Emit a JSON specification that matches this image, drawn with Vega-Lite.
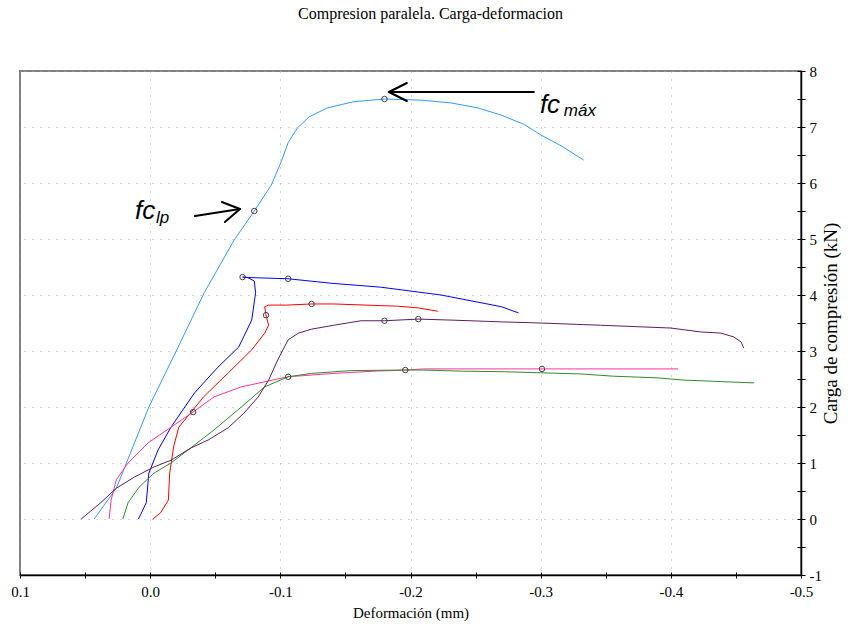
{
  "$schema": "https://vega.github.io/schema/vega-lite/v6.json",
  "width": 781,
  "height": 504,
  "autosize": {"type": "none"},
  "padding": {"left": 20, "top": 71, "right": 47, "bottom": 54},
  "background": "white",
  "title": {"text": "Compresion paralela. Carga-deformacion", "font": "Liberation Serif", "fontSize": 16, "fontWeight": "normal", "color": "#000000", "anchor": "middle", "frame": "group", "baseline": "alphabetic", "offset": 29, "dx": 20},
  "config": {"view": {"stroke": "#808080", "strokeWidth": 2}, "font": "Liberation Serif"},
  "datasets": {
    "curves": [
      {"s": "A", "i": 0, "x": 0.043, "y": 0}, {"s": "A", "i": 1, "x": 0.026, "y": 0.55}, {"s": "A", "i": 2, "x": 0.001, "y": 2.0}, {"s": "A", "i": 3, "x": -0.0215, "y": 3.07}, {"s": "A", "i": 4, "x": -0.0415, "y": 4.04}, {"s": "A", "i": 5, "x": -0.0645, "y": 4.98}, {"s": "A", "i": 6, "x": -0.08, "y": 5.5}, {"s": "A", "i": 7, "x": -0.093, "y": 5.96}, {"s": "A", "i": 8, "x": -0.101, "y": 6.4}, {"s": "A", "i": 9, "x": -0.106, "y": 6.72}, {"s": "A", "i": 10, "x": -0.113, "y": 6.98}, {"s": "A", "i": 11, "x": -0.122, "y": 7.18}, {"s": "A", "i": 12, "x": -0.136, "y": 7.34}, {"s": "A", "i": 13, "x": -0.156, "y": 7.45}, {"s": "A", "i": 14, "x": -0.18, "y": 7.5}, {"s": "A", "i": 15, "x": -0.208, "y": 7.48}, {"s": "A", "i": 16, "x": -0.231, "y": 7.43}, {"s": "A", "i": 17, "x": -0.252, "y": 7.34}, {"s": "A", "i": 18, "x": -0.27, "y": 7.21}, {"s": "A", "i": 19, "x": -0.287, "y": 7.05}, {"s": "A", "i": 20, "x": -0.3, "y": 6.86}, {"s": "A", "i": 21, "x": -0.316, "y": 6.66}, {"s": "A", "i": 22, "x": -0.333, "y": 6.41},
      {"s": "B", "i": 0, "x": 0.009, "y": 0}, {"s": "B", "i": 1, "x": 0.003, "y": 0.29}, {"s": "B", "i": 2, "x": 0.001, "y": 0.82}, {"s": "B", "i": 3, "x": -0.006, "y": 1.23}, {"s": "B", "i": 4, "x": -0.016, "y": 1.64}, {"s": "B", "i": 5, "x": -0.034, "y": 2.25}, {"s": "B", "i": 6, "x": -0.052, "y": 2.71}, {"s": "B", "i": 7, "x": -0.068, "y": 3.07}, {"s": "B", "i": 8, "x": -0.078, "y": 3.55}, {"s": "B", "i": 9, "x": -0.081, "y": 4.04}, {"s": "B", "i": 10, "x": -0.08, "y": 4.25}, {"s": "B", "i": 11, "x": -0.075, "y": 4.31}, {"s": "B", "i": 12, "x": -0.071, "y": 4.32}, {"s": "B", "i": 13, "x": -0.078, "y": 4.31}, {"s": "B", "i": 14, "x": -0.106, "y": 4.29}, {"s": "B", "i": 15, "x": -0.139, "y": 4.21}, {"s": "B", "i": 16, "x": -0.177, "y": 4.14}, {"s": "B", "i": 17, "x": -0.2235, "y": 4.0}, {"s": "B", "i": 18, "x": -0.27, "y": 3.79}, {"s": "B", "i": 19, "x": -0.283, "y": 3.68},
      {"s": "C", "i": 0, "x": -0.002, "y": 0}, {"s": "C", "i": 1, "x": -0.008, "y": 0.11}, {"s": "C", "i": 2, "x": -0.014, "y": 0.34}, {"s": "C", "i": 3, "x": -0.015, "y": 0.82}, {"s": "C", "i": 4, "x": -0.018, "y": 1.29}, {"s": "C", "i": 5, "x": -0.022, "y": 1.64}, {"s": "C", "i": 6, "x": -0.033, "y": 1.95}, {"s": "C", "i": 7, "x": -0.041, "y": 2.18}, {"s": "C", "i": 8, "x": -0.06, "y": 2.61}, {"s": "C", "i": 9, "x": -0.078, "y": 3.02}, {"s": "C", "i": 10, "x": -0.088, "y": 3.32}, {"s": "C", "i": 11, "x": -0.091, "y": 3.46}, {"s": "C", "i": 12, "x": -0.089, "y": 3.64}, {"s": "C", "i": 13, "x": -0.088, "y": 3.79}, {"s": "C", "i": 14, "x": -0.091, "y": 3.82}, {"s": "C", "i": 15, "x": -0.105, "y": 3.82}, {"s": "C", "i": 16, "x": -0.124, "y": 3.84}, {"s": "C", "i": 17, "x": -0.141, "y": 3.84}, {"s": "C", "i": 18, "x": -0.19, "y": 3.8}, {"s": "C", "i": 19, "x": -0.206, "y": 3.77}, {"s": "C", "i": 20, "x": -0.221, "y": 3.71},
      {"s": "D", "i": 0, "x": 0.0315, "y": 0}, {"s": "D", "i": 1, "x": 0.03, "y": 0.34}, {"s": "D", "i": 2, "x": 0.026, "y": 0.7}, {"s": "D", "i": 3, "x": 0.017, "y": 1.0}, {"s": "D", "i": 4, "x": 0.0015, "y": 1.36}, {"s": "D", "i": 5, "x": -0.016, "y": 1.64}, {"s": "D", "i": 6, "x": -0.033, "y": 1.91}, {"s": "D", "i": 7, "x": -0.049, "y": 2.18}, {"s": "D", "i": 8, "x": -0.07, "y": 2.36}, {"s": "D", "i": 9, "x": -0.088, "y": 2.45}, {"s": "D", "i": 10, "x": -0.106, "y": 2.54}, {"s": "D", "i": 11, "x": -0.141, "y": 2.6}, {"s": "D", "i": 12, "x": -0.172, "y": 2.64}, {"s": "D", "i": 13, "x": -0.196, "y": 2.66}, {"s": "D", "i": 14, "x": -0.21, "y": 2.68}, {"s": "D", "i": 15, "x": -0.301, "y": 2.68}, {"s": "D", "i": 16, "x": -0.4055, "y": 2.68},
      {"s": "E", "i": 0, "x": 0.021, "y": 0}, {"s": "E", "i": 1, "x": 0.017, "y": 0.29}, {"s": "E", "i": 2, "x": 0.0085, "y": 0.57}, {"s": "E", "i": 3, "x": -0.003, "y": 0.82}, {"s": "E", "i": 4, "x": -0.016, "y": 1.0}, {"s": "E", "i": 5, "x": -0.034, "y": 1.32}, {"s": "E", "i": 6, "x": -0.049, "y": 1.59}, {"s": "E", "i": 7, "x": -0.07, "y": 2.0}, {"s": "E", "i": 8, "x": -0.088, "y": 2.36}, {"s": "E", "i": 9, "x": -0.106, "y": 2.54}, {"s": "E", "i": 10, "x": -0.124, "y": 2.6}, {"s": "E", "i": 11, "x": -0.154, "y": 2.65}, {"s": "E", "i": 12, "x": -0.196, "y": 2.66}, {"s": "E", "i": 13, "x": -0.21, "y": 2.66}, {"s": "E", "i": 14, "x": -0.24, "y": 2.64}, {"s": "E", "i": 15, "x": -0.272, "y": 2.63}, {"s": "E", "i": 16, "x": -0.331, "y": 2.59}, {"s": "E", "i": 17, "x": -0.356, "y": 2.55}, {"s": "E", "i": 18, "x": -0.39, "y": 2.52}, {"s": "E", "i": 19, "x": -0.41, "y": 2.48}, {"s": "E", "i": 20, "x": -0.464, "y": 2.43},
      {"s": "F", "i": 0, "x": 0.053, "y": 0}, {"s": "F", "i": 1, "x": 0.038, "y": 0.29}, {"s": "F", "i": 2, "x": 0.026, "y": 0.55}, {"s": "F", "i": 3, "x": 0.012, "y": 0.75}, {"s": "F", "i": 4, "x": -0.003, "y": 0.93}, {"s": "F", "i": 5, "x": -0.016, "y": 1.05}, {"s": "F", "i": 6, "x": -0.0315, "y": 1.27}, {"s": "F", "i": 7, "x": -0.0445, "y": 1.41}, {"s": "F", "i": 8, "x": -0.06, "y": 1.63}, {"s": "F", "i": 9, "x": -0.072, "y": 1.89}, {"s": "F", "i": 10, "x": -0.083, "y": 2.18}, {"s": "F", "i": 11, "x": -0.091, "y": 2.48}, {"s": "F", "i": 12, "x": -0.098, "y": 2.84}, {"s": "F", "i": 13, "x": -0.106, "y": 3.2}, {"s": "F", "i": 14, "x": -0.114, "y": 3.32}, {"s": "F", "i": 15, "x": -0.124, "y": 3.39}, {"s": "F", "i": 16, "x": -0.141, "y": 3.46}, {"s": "F", "i": 17, "x": -0.162, "y": 3.54}, {"s": "F", "i": 18, "x": -0.18, "y": 3.54}, {"s": "F", "i": 19, "x": -0.206, "y": 3.57}, {"s": "F", "i": 20, "x": -0.2335, "y": 3.55}, {"s": "F", "i": 21, "x": -0.27, "y": 3.52}, {"s": "F", "i": 22, "x": -0.3, "y": 3.5}, {"s": "F", "i": 23, "x": -0.346, "y": 3.46}, {"s": "F", "i": 24, "x": -0.4, "y": 3.41}, {"s": "F", "i": 25, "x": -0.423, "y": 3.34}, {"s": "F", "i": 26, "x": -0.4385, "y": 3.32}, {"s": "F", "i": 27, "x": -0.4485, "y": 3.25}, {"s": "F", "i": 28, "x": -0.454, "y": 3.16}, {"s": "F", "i": 29, "x": -0.456, "y": 3.05}
    ],
    "pts": [
      {"s": "A", "x": -0.08, "y": 5.5}, {"s": "A", "x": -0.18, "y": 7.5},
      {"s": "B", "x": -0.071, "y": 4.32}, {"s": "B", "x": -0.106, "y": 4.29},
      {"s": "C", "x": -0.089, "y": 3.64}, {"s": "C", "x": -0.124, "y": 3.84},
      {"s": "D", "x": -0.033, "y": 1.91}, {"s": "D", "x": -0.301, "y": 2.68},
      {"s": "E", "x": -0.106, "y": 2.54}, {"s": "E", "x": -0.196, "y": 2.66},
      {"s": "F", "x": -0.18, "y": 3.54}, {"s": "F", "x": -0.206, "y": 3.57}
    ],
    "arrows": [
      {"x": -0.1834, "y": 7.625, "x2": -0.2948, "y2": 7.625},
      {"x": -0.1834, "y": 7.625, "x2": -0.1972, "y2": 7.786},
      {"x": -0.1834, "y": 7.625, "x2": -0.1972, "y2": 7.464},
      {"x": -0.0344, "y": 5.411, "x2": -0.069, "y2": 5.536},
      {"x": -0.069, "y": 5.536, "x2": -0.0551, "y2": 5.661},
      {"x": -0.069, "y": 5.536, "x2": -0.0574, "y2": 5.304}
    ],
    "mainLabels": [
      {"t": "fc", "x": -0.2994, "y": 7.25},
      {"t": "fc", "x": 0.0117, "y": 5.357}
    ],
    "subLabels": [
      {"t": "máx", "x": -0.3178, "y": 7.196},
      {"t": "lp", "x": -0.0044, "y": 5.286}
    ]
  },
  "layer": [
    {
      "data": {"name": "curves"},
      "mark": {"type": "line", "strokeWidth": 1},
      "encoding": {
        "x": {"field": "x", "type": "quantitative", "scale": {"domain": [0.1, -0.5], "nice": false, "zero": false},
          "axis": {"orient": "bottom", "values": [0.1, 0.05, 0, -0.05, -0.1, -0.15, -0.2, -0.25, -0.3, -0.35, -0.4, -0.45, -0.5],
            "title": "Deformación (mm)", "titleFont": "Liberation Serif", "titleFontSize": 15, "titleFontWeight": "normal", "titleColor": "#000000", "titlePadding": 6,
            "labelFont": "Liberation Serif", "labelFontSize": 15, "labelColor": "#000000", "labelPadding": 6, "labelFlush": false, "labelOverlap": false, "labelBound": false,
            "labelExpr": "abs(datum.value*10-round(datum.value*10))<0.01 ? (datum.value < -0.001 ? '-' : '') + format(abs(datum.value),'.1f') : ''",
            "tickSize": 3, "tickColor": "#000000", "tickWidth": 1, "domainColor": "#000000", "domainWidth": 1.5,
            "grid": true, "gridColor": "#a8a8a8", "gridDash": [1, 7], "gridWidth": 1,
            "gridOpacity": {"condition": {"test": "abs(datum.value*10-round(datum.value*10))<0.01", "value": 1}, "value": 0}}},
        "y": {"field": "y", "type": "quantitative", "scale": {"domain": [-1, 8], "nice": false, "zero": false},
          "axis": {"orient": "right", "values": [-1, -0.5, 0, 0.5, 1, 1.5, 2, 2.5, 3, 3.5, 4, 4.5, 5, 5.5, 6, 6.5, 7, 7.5, 8],
            "title": "Carga de compresión (kN)", "titleFont": "Liberation Serif", "titleFontSize": 19, "titleFontWeight": "normal", "titleColor": "#000000", "titleAngle": -90, "titleBaseline": "top", "titleAlign": "center", "titlePadding": 0,
            "labelFont": "Liberation Serif", "labelFontSize": 15, "labelColor": "#000000", "labelPadding": 4, "labelFlush": false, "labelOverlap": false, "labelBound": false,
            "labelExpr": "datum.value == round(datum.value) ? (datum.value < 0 ? '-' : '') + format(abs(datum.value),'d') : ''",
            "tickSize": 4, "tickColor": "#000000", "tickWidth": 1, "domainColor": "#000000", "domainWidth": 1.5,
            "grid": true, "gridColor": "#a8a8a8", "gridDash": [1, 7], "gridWidth": 1,
            "gridOpacity": {"condition": {"test": "datum.value == round(datum.value)", "value": 1}, "value": 0}}},
        "color": {"field": "s", "type": "nominal", "legend": null,
          "scale": {"domain": ["A", "B", "C", "D", "E", "F"], "range": ["#3399ff", "#0000ff", "#ff0000", "#ff3399", "#2e8b2e", "#5c1f5c"]}},
        "order": {"field": "i", "type": "quantitative"}
      }
    },
    {
      "data": {"name": "pts"},
      "mark": {"type": "point", "filled": false, "size": 30, "strokeWidth": 1, "color": "#404040", "opacity": 1},
      "encoding": {
        "x": {"field": "x", "type": "quantitative", "scale": {"domain": [0.1, -0.5], "nice": false, "zero": false},
          "axis": {"orient": "top", "offset": -504, "values": [0.1, 0.05, 0, -0.05, -0.1, -0.15, -0.2, -0.25, -0.3, -0.35, -0.4, -0.45, -0.5],
            "labels": false, "domain": false, "grid": false, "title": null, "ticks": true, "tickSize": 3, "tickColor": "#000000", "tickWidth": 1}},
        "y": {"field": "y", "type": "quantitative", "scale": {"domain": [-1, 8], "nice": false, "zero": false},
          "axis": {"orient": "left", "offset": -781, "values": [-1, -0.5, 0, 0.5, 1, 1.5, 2, 2.5, 3, 3.5, 4, 4.5, 5, 5.5, 6, 6.5, 7, 7.5, 8],
            "labels": false, "domain": false, "grid": false, "title": null, "ticks": true, "tickSize": 4, "tickColor": "#000000", "tickWidth": 1}}
      }
    },
    {
      "data": {"name": "arrows"},
      "mark": {"type": "rule", "color": "#000000", "strokeWidth": 2, "strokeCap": "round"},
      "encoding": {
        "x": {"field": "x", "type": "quantitative", "axis": null},
        "y": {"field": "y", "type": "quantitative", "axis": null},
        "x2": {"field": "x2"},
        "y2": {"field": "y2"}
      }
    },
    {
      "data": {"name": "mainLabels"},
      "mark": {"type": "text", "font": "Liberation Sans", "fontStyle": "italic", "fontSize": 26, "align": "left", "baseline": "alphabetic", "color": "#000000"},
      "encoding": {
        "x": {"field": "x", "type": "quantitative", "axis": null},
        "y": {"field": "y", "type": "quantitative", "axis": null},
        "text": {"field": "t"}
      }
    },
    {
      "data": {"name": "subLabels"},
      "mark": {"type": "text", "font": "Liberation Sans", "fontStyle": "italic", "fontSize": 17, "align": "left", "baseline": "alphabetic", "color": "#000000"},
      "encoding": {
        "x": {"field": "x", "type": "quantitative", "axis": null},
        "y": {"field": "y", "type": "quantitative", "axis": null},
        "text": {"field": "t"}
      }
    }
  ],
  "resolve": {"axis": {"x": "independent", "y": "independent"}}
}
